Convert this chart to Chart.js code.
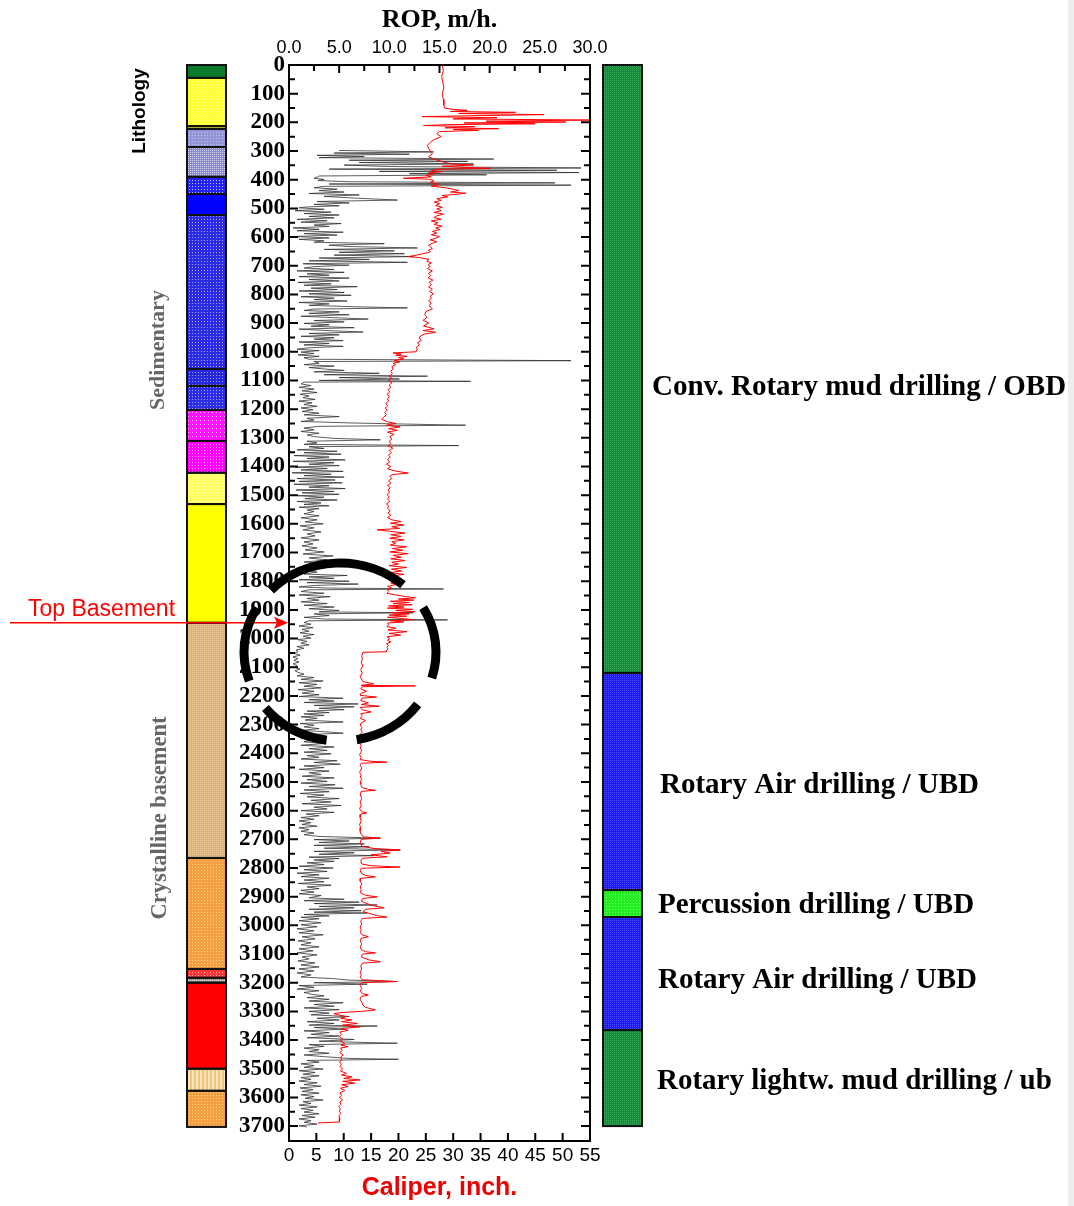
<!DOCTYPE html>
<html>
<head>
<meta charset="utf-8">
<title>ROP and caliper log</title>
<script src="https://cdn.jsdelivr.net/npm/chart.js@4.4.1/dist/chart.umd.min.js"></script>
<style>
  html, body { margin: 0; padding: 0; background: #fff; }
  canvas { display: block; }
</style>
</head>
<body>
<canvas id="logChart" width="1074" height="1206"></canvas>
<script>
// Well log: ROP (top axis) and caliper (bottom axis) vs depth, with lithology and drilling method columns

const SERIF = '"Liberation Serif", "Times New Roman", serif';
const SANS = '"Liberation Sans", Arial, sans-serif';

// depth tick labels (m)
const depthTicks = [0, 100, 200, 300, 400, 500, 600, 700, 800, 900, 1000, 1100, 1200, 1300, 1400, 1500, 1600, 1700, 1800,
  1900, 2000, 2100, 2200, 2300, 2400, 2500, 2600, 2700, 2800, 2900, 3000, 3100, 3200, 3300, 3400, 3500, 3600, 3700];

// --- data: [depth m, ROP m/h]
const ropLog = [
  [298,5.0],[303,14.4],[307,4.5],[311,12.0],[315,2.8],[319,7.5],[323,3.0],[328,20.4],[332,6.0],[336,17.8],
  [340,7.0],[345,18.4],[349,5.5],[354,10.0],[359,29.1],[363,4.0],[367,26.7],[371,9.0],[375,28.9],[379,12.0],
  [383,19.7],[387,3.0],[391,2.8],[395,2.5],[399,3.5],[403,2.9],[407,6.0],[411,26.5],[415,4.0],[419,28.1],
  [423,3.5],[428,2.5],[433,4.8],[438,3.0],[443,5.5],[448,2.0],[453,7.0],[458,3.5],[464,6.5],[471,10.8],
  [476,2.8],[481,6.0],[486,2.5],[491,5.0],[495,1.8],[498,1.0],[503,3.5],[508,0.6],[513,4.2],[518,1.5],
  [523,5.0],[528,2.0],[533,4.5],[538,0.8],[543,3.8],[548,1.2],[553,5.2],[558,2.5],[563,4.0],[568,0.4],
  [573,3.0],[578,0.8],[583,5.4],[588,1.5],[593,4.8],[598,0.5],[603,4.0],[608,1.0],[613,3.5],[618,2.5],
  [623,9.5],[628,4.0],[633,6.0],[638,12.8],[643,3.5],[648,10.5],[653,5.0],[658,11.5],[663,4.5],[668,12.4],
  [673,3.0],[678,8.0],[683,2.0],[688,11.8],[693,1.4],[698,6.0],[703,2.5],[708,1.5],[713,4.5],[718,0.8],
  [723,5.5],[728,1.8],[733,4.0],[738,1.0],[743,6.0],[748,2.0],[753,5.0],[758,0.9],[763,4.2],[768,1.5],
  [773,6.8],[778,2.2],[783,4.8],[788,1.0],[793,5.5],[798,2.0],[803,6.2],[808,1.2],[813,4.5],[818,2.5],
  [823,5.8],[828,1.0],[833,4.0],[838,2.0],[843,6.5],[847,11.8],[851,2.5],[856,1.5],[861,5.0],[866,2.0],
  [871,6.0],[876,1.2],[881,4.5],[886,7.9],[891,2.5],[896,5.5],[901,1.5],[906,4.0],[911,2.2],[916,6.5],
  [921,1.0],[926,3.8],[931,7.4],[936,2.0],[941,5.0],[946,1.2],[951,4.5],[956,2.5],[961,5.4],[966,1.0],
  [971,4.0],[976,1.5],[981,5.4],[986,2.0],[991,0.8],[996,3.0],[1001,1.2],[1006,2.5],[1011,0.9],[1016,3.0],
  [1021,1.5],[1026,2.0],[1031,28.1],[1034,2.5],[1040,3.0],[1045,1.5],[1050,4.5],[1055,2.0],[1060,3.5],[1065,5.5],
  [1070,2.5],[1075,9.0],[1080,3.5],[1085,13.8],[1090,5.0],[1095,11.0],[1100,3.0],[1103,18.1],[1106,1.5],[1112,1.2],
  [1118,2.2],[1124,1.0],[1130,2.5],[1136,1.3],[1142,2.8],[1148,1.1],[1154,2.0],[1160,1.4],[1166,2.6],[1172,1.0],
  [1178,2.3],[1184,1.5],[1190,2.8],[1196,1.2],[1202,2.4],[1208,1.3],[1214,3.0],[1220,1.5],[1226,5.0],[1232,1.8],
  [1238,2.5],[1243,1.2],[1248,6.0],[1252,11.5],[1256,17.6],[1260,3.0],[1266,1.5],[1272,2.5],[1278,1.2],[1284,3.0],
  [1290,1.8],[1296,2.5],[1302,4.5],[1307,9.1],[1312,1.8],[1318,2.8],[1323,1.5],[1327,16.9],[1331,2.0],[1337,3.5],
  [1342,0.8],[1347,4.8],[1352,1.5],[1357,5.2],[1362,0.5],[1367,4.0],[1372,1.8],[1377,5.6],[1382,0.4],[1387,4.5],
  [1392,2.0],[1397,5.0],[1402,0.6],[1407,3.8],[1412,1.2],[1417,5.4],[1422,0.3],[1427,4.2],[1432,1.5],[1437,5.5],
  [1442,0.8],[1447,4.6],[1452,1.0],[1457,5.3],[1462,0.5],[1467,4.0],[1472,2.0],[1477,5.6],[1482,0.7],[1487,4.5],
  [1492,1.3],[1497,5.0],[1502,0.9],[1507,3.5],[1512,1.6],[1517,4.8],[1522,0.8],[1527,3.2],[1532,1.5],[1537,4.0],
  [1542,1.0],[1547,3.0],[1552,1.8],[1557,2.5],[1565,1.5],[1572,3.0],[1579,1.2],[1586,2.8],[1593,1.6],[1600,3.4],
  [1607,1.1],[1614,2.5],[1621,1.4],[1628,3.2],[1635,1.8],[1642,2.6],[1649,1.2],[1656,3.0],[1663,1.5],[1670,2.4],
  [1677,1.3],[1684,2.8],[1691,1.6],[1698,3.5],[1705,1.4],[1712,4.4],[1719,2.0],[1726,3.8],[1733,1.5],[1740,4.0],
  [1747,1.8],[1754,3.2],[1761,1.2],[1768,2.8],[1775,1.5],[1780,5.8],[1785,2.0],[1790,4.5],[1795,1.0],[1800,6.0],
  [1805,1.8],[1810,6.9],[1815,2.5],[1820,1.0],[1824,4.0],[1827,15.4],[1830,2.0],[1836,1.2],[1842,3.5],[1848,1.0],
  [1854,4.1],[1860,1.8],[1866,3.0],[1872,1.2],[1878,3.8],[1884,1.5],[1890,4.5],[1896,2.0],[1902,5.0],[1907,3.0],
  [1910,12.4],[1914,2.5],[1920,4.0],[1926,1.5],[1932,3.5],[1935,15.8],[1938,2.0],[1944,1.5],[1950,2.2],[1956,1.0],
  [1962,2.4],[1968,1.3],[1974,2.0],[1980,1.1],[1986,2.5],[1992,1.4],[1998,2.2],[2004,0.9],[2010,1.8],[2016,1.2],
  [2022,2.0],[2028,0.8],[2034,1.5],[2040,0.7],[2046,0.9],[2052,0.5],[2058,1.1],[2064,0.4],[2070,0.9],[2076,0.5],
  [2082,1.0],[2088,0.4],[2094,0.8],[2100,0.5],[2106,1.1],[2112,0.6],[2118,0.9],[2124,1.5],[2130,0.8],[2136,2.5],
  [2142,1.2],[2148,3.4],[2154,1.0],[2160,2.8],[2166,1.5],[2172,3.2],[2178,0.9],[2184,2.5],[2190,1.3],[2196,3.0],
  [2202,1.0],[2208,5.4],[2213,2.0],[2218,4.5],[2223,1.5],[2228,6.9],[2233,2.5],[2238,6.5],[2243,3.0],[2248,5.5],
  [2253,1.8],[2258,4.0],[2263,1.5],[2268,3.5],[2273,1.2],[2278,2.8],[2284,1.6],[2291,5.4],[2296,1.1],[2302,2.5],
  [2308,1.5],[2314,3.0],[2320,1.3],[2326,4.0],[2330,5.4],[2335,1.5],[2341,2.8],[2347,1.2],[2353,2.5],[2360,1.5],
  [2366,3.5],[2372,1.2],[2378,4.5],[2384,2.0],[2390,3.8],[2396,1.5],[2402,4.2],[2408,1.8],[2414,3.0],[2420,1.2],
  [2426,4.8],[2432,2.5],[2438,5.1],[2444,1.5],[2450,3.5],[2456,1.0],[2462,4.0],[2468,2.0],[2474,3.2],[2480,1.3],
  [2486,4.5],[2492,1.8],[2498,3.8],[2504,1.2],[2510,4.6],[2516,2.0],[2522,5.4],[2528,1.5],[2534,4.0],[2540,1.1],
  [2546,3.5],[2552,1.8],[2558,5.0],[2564,2.2],[2570,4.2],[2576,1.3],[2582,5.2],[2588,2.5],[2594,3.8],[2600,1.2],
  [2606,4.5],[2612,1.7],[2618,3.0],[2624,1.2],[2630,2.5],[2636,1.0],[2642,2.2],[2648,1.3],[2654,2.8],[2660,1.0],
  [2666,2.0],[2672,1.2],[2678,2.5],[2684,1.5],[2690,3.0],[2696,9.1],[2701,2.5],[2706,6.0],[2711,3.0],[2716,7.5],
  [2721,2.5],[2726,8.0],[2731,3.5],[2737,11.1],[2742,2.5],[2747,6.5],[2752,3.0],[2757,8.5],[2762,2.0],[2767,5.0],
  [2772,2.5],[2777,4.5],[2782,1.8],[2788,3.5],[2794,1.0],[2800,4.4],[2806,1.5],[2812,3.8],[2818,0.8],[2824,3.0],
  [2830,1.2],[2836,4.0],[2842,1.5],[2848,3.5],[2854,0.9],[2860,4.2],[2866,1.8],[2872,3.0],[2878,1.2],[2884,2.5],
  [2890,1.0],[2896,3.2],[2904,2.0],[2909,5.5],[2914,1.5],[2919,7.0],[2924,2.5],[2929,8.8],[2934,3.0],[2939,6.5],
  [2944,2.0],[2949,7.2],[2954,2.5],[2957,7.8],[2962,1.5],[2967,4.0],[2972,1.2],[2977,3.0],[2984,1.0],[2991,3.2],
  [2998,1.2],[3005,2.8],[3012,0.8],[3019,2.5],[3026,1.0],[3033,3.4],[3040,1.3],[3047,2.6],[3054,0.9],[3061,2.2],
  [3068,1.2],[3075,3.0],[3082,1.0],[3089,2.4],[3096,0.8],[3103,2.8],[3110,1.3],[3117,2.0],[3124,0.9],[3131,2.6],
  [3138,1.2],[3145,3.0],[3152,1.0],[3159,2.5],[3166,0.8],[3173,2.2],[3180,1.2],[3186,4.5],[3191,6.0],[3196,10.8],
  [3200,2.5],[3205,7.8],[3210,1.0],[3216,2.5],[3222,0.8],[3228,3.0],[3234,1.5],[3240,2.2],[3246,3.5],[3252,1.8],
  [3258,4.0],[3264,2.0],[3270,5.4],[3276,2.5],[3282,4.5],[3288,1.5],[3294,5.0],[3300,2.0],[3306,4.0],[3312,2.2],
  [3318,6.0],[3324,2.8],[3330,5.0],[3336,1.8],[3342,4.5],[3348,2.0],[3351,8.8],[3356,2.5],[3362,5.5],[3368,1.5],
  [3374,4.0],[3380,2.2],[3386,5.0],[3392,1.8],[3398,6.5],[3404,3.0],[3408,7.0],[3411,10.8],[3416,2.0],[3422,3.5],
  [3428,1.5],[3434,3.0],[3440,2.0],[3446,4.0],[3452,1.5],[3458,3.5],[3464,6.0],[3467,10.9],[3471,1.8],[3477,3.0],
  [3483,1.2],[3489,2.5],[3495,1.5],[3501,3.4],[3507,1.0],[3513,2.6],[3519,1.4],[3525,3.0],[3531,1.2],[3537,2.2],
  [3543,1.0],[3549,2.8],[3555,1.5],[3561,3.2],[3567,1.1],[3573,2.4],[3579,1.3],[3585,3.0],[3591,1.2],[3597,2.5],
  [3603,1.6],[3609,3.4],[3615,1.4],[3621,2.2],[3627,1.0],[3633,2.8],[3639,1.2],[3645,2.4],[3651,1.5],[3657,3.0],
  [3663,1.3],[3669,2.6],[3675,1.0],[3681,2.2],[3687,1.5],[3693,2.8],[3699,1.0],[3703,1.8]
];

// --- data: [depth m, caliper inch]
const caliperLog = [
  [0,28.0],[20,28.2],[40,27.9],[60,28.1],[80,28.3],[100,28.0],[120,28.2],[140,28.3],[150,28.4],[155,30.0],
  [158,32.6],[162,29.5],[165,41.4],[169,31.0],[173,46.6],[177,33.0],[180,24.3],[184,38.0],[188,30.0],[192,55.0],
  [196,36.0],[199,50.6],[202,32.0],[205,45.0],[208,29.0],[211,24.6],[215,34.0],[219,28.5],[222,38.3],[225,30.0],
  [228,34.6],[232,27.5],[240,27.0],[250,27.8],[260,26.5],[270,25.8],[280,25.3],[290,25.5],[300,25.8],[310,26.2],
  [320,25.5],[330,26.8],[340,28.5],[345,30.0],[349,33.7],[353,28.0],[357,32.0],[360,36.8],[364,27.0],[368,26.0],
  [372,28.0],[376,25.5],[380,26.5],[385,25.0],[390,26.0],[395,20.9],[398,25.5],[403,26.5],[410,25.8],[416,27.5],
  [422,26.0],[428,28.5],[433,30.0],[438,31.0],[443,29.5],[447,32.3],[451,30.5],[455,28.0],[460,29.0],[466,27.0],
  [472,27.8],[478,26.5],[484,27.5],[490,26.8],[496,28.0],[502,27.0],[508,27.8],[514,26.5],[520,28.2],[526,27.0],
  [532,26.5],[538,27.8],[544,26.0],[550,27.2],[556,26.5],[562,28.0],[568,26.8],[574,27.5],[580,26.2],[586,27.0],
  [592,26.0],[598,27.5],[604,26.8],[610,25.8],[616,27.0],[622,26.2],[628,25.5],[634,25.8],[640,26.2],[646,25.5],
  [652,25.8],[658,24.5],[664,23.0],[668,21.8],[672,24.0],[678,25.6],[684,25.2],[690,26.0],[696,25.4],[702,25.8],
  [710,25.3],[718,26.2],[726,25.5],[734,25.9],[742,25.4],[750,26.3],[758,25.6],[766,26.0],[774,25.5],[782,26.2],
  [790,25.7],[798,26.4],[806,25.8],[814,26.0],[822,25.5],[830,26.0],[840,25.6],[850,26.2],[860,25.0],[870,24.8],
  [880,25.2],[890,24.5],[900,25.5],[910,24.6],[920,26.5],[926,24.5],[932,26.8],[938,24.8],[945,24.0],[952,23.8],
  [960,24.2],[968,23.5],[976,23.8],[984,23.3],[992,23.4],[1000,23.2],[1004,19.0],[1008,20.5],[1012,19.5],[1016,21.6],
  [1020,20.0],[1025,21.0],[1030,19.2],[1035,20.3],[1040,19.0],[1045,19.5],[1052,18.8],[1060,19.0],[1068,18.6],[1076,18.9],
  [1084,18.4],[1092,18.7],[1100,18.2],[1108,18.8],[1116,18.3],[1124,18.6],[1132,18.1],[1140,18.4],[1148,17.9],[1156,18.3],
  [1164,18.0],[1172,18.2],[1180,17.7],[1188,18.0],[1196,17.6],[1204,17.9],[1212,17.5],[1220,17.8],[1228,17.3],[1236,17.0],
  [1244,18.0],[1250,19.5],[1256,17.8],[1262,20.3],[1268,18.2],[1274,19.8],[1280,18.0],[1288,19.2],[1296,18.4],[1304,18.8],
  [1312,18.3],[1320,18.6],[1328,18.1],[1336,19.0],[1344,18.3],[1352,18.7],[1360,18.2],[1368,18.5],[1376,18.0],[1384,18.4],
  [1392,17.8],[1400,18.6],[1408,18.0],[1416,19.5],[1423,21.8],[1428,19.0],[1434,18.4],[1442,18.8],[1450,18.2],[1458,18.6],
  [1466,18.0],[1474,18.5],[1482,18.1],[1490,18.4],[1498,17.9],[1506,18.3],[1514,18.0],[1522,18.4],[1530,17.8],[1538,18.2],
  [1546,18.0],[1554,18.5],[1562,18.1],[1570,18.6],[1578,18.0],[1586,18.8],[1592,20.5],[1598,18.5],[1604,21.0],[1610,18.8],
  [1616,20.2],[1621,16.1],[1626,18.5],[1632,21.2],[1638,18.6],[1644,20.5],[1650,18.4],[1656,21.0],[1662,18.8],[1668,19.5],
  [1674,18.5],[1680,21.5],[1686,18.9],[1692,20.8],[1698,18.4],[1704,21.8],[1710,19.0],[1716,20.5],[1722,18.6],[1728,21.2],
  [1734,18.8],[1740,20.0],[1746,18.3],[1752,21.5],[1758,18.7],[1764,20.6],[1770,18.5],[1776,21.0],[1782,18.8],[1788,19.8],
  [1794,18.2],[1800,20.5],[1806,18.6],[1812,19.5],[1818,18.0],[1824,18.8],[1830,18.0],[1836,18.2],[1842,17.9],[1848,19.5],
  [1854,21.5],[1858,23.1],[1862,20.0],[1866,22.8],[1870,18.5],[1874,22.0],[1878,19.0],[1882,22.5],[1886,18.2],[1890,21.0],
  [1894,18.0],[1898,22.6],[1902,19.5],[1906,23.0],[1910,18.8],[1914,22.0],[1918,18.3],[1922,21.5],[1926,18.0],[1930,20.5],
  [1934,22.8],[1938,18.5],[1942,21.0],[1946,18.0],[1952,18.2],[1958,17.9],[1964,19.5],[1970,18.1],[1976,21.6],[1982,18.3],
  [1988,20.4],[1994,17.9],[2000,18.4],[2006,18.0],[2012,18.6],[2018,17.8],[2024,18.2],[2030,17.9],[2036,18.1],[2042,17.8],
  [2046,17.8],[2048,13.5],[2060,13.3],[2072,13.4],[2084,13.2],[2096,13.5],[2108,13.1],[2120,13.4],[2132,13.0],[2140,13.2],
  [2150,13.5],[2158,15.5],[2163,13.2],[2165,23.1],[2168,13.4],[2176,13.1],[2184,14.2],[2190,13.2],[2198,13.0],[2204,16.0],
  [2208,13.3],[2216,13.1],[2224,14.5],[2230,13.2],[2236,16.5],[2240,13.0],[2248,13.4],[2256,15.0],[2262,13.1],[2270,13.4],
  [2278,13.0],[2286,14.0],[2294,13.2],[2302,13.0],[2310,13.3],[2318,13.1],[2326,13.4],[2334,13.0],[2342,13.2],[2350,12.9],
  [2358,13.3],[2366,13.0],[2374,13.2],[2382,13.0],[2390,13.3],[2398,13.1],[2406,12.9],[2414,13.2],[2422,13.0],[2428,15.0],
  [2431,17.9],[2435,13.2],[2443,13.0],[2451,13.3],[2459,13.1],[2467,12.9],[2475,13.2],[2483,13.0],[2491,13.3],[2499,13.0],
  [2508,13.1],[2520,13.4],[2526,14.5],[2529,15.8],[2533,13.2],[2545,13.0],[2557,13.3],[2569,13.0],[2581,13.2],[2593,12.9],
  [2604,13.3],[2608,14.2],[2612,13.1],[2624,13.0],[2636,13.2],[2648,12.9],[2660,13.1],[2672,13.0],[2684,13.2],[2692,13.8],
  [2696,16.7],[2700,13.2],[2712,13.0],[2724,13.3],[2732,15.5],[2737,20.3],[2742,16.8],[2748,18.5],[2754,15.0],[2761,17.9],
  [2766,13.4],[2776,13.1],[2786,13.3],[2792,15.0],[2797,20.3],[2801,13.2],[2810,13.0],[2820,13.3],[2826,14.0],[2831,15.8],
  [2836,13.1],[2846,13.0],[2856,13.3],[2866,13.0],[2876,13.2],[2886,13.0],[2895,14.0],[2901,16.1],[2906,13.5],[2916,13.2],
  [2926,14.5],[2932,15.5],[2939,17.4],[2944,14.0],[2952,13.5],[2960,15.0],[2966,16.0],[2971,17.9],[2976,13.4],[2986,13.1],
  [2996,13.3],[3006,13.0],[3016,13.2],[3026,13.0],[3034,13.5],[3040,14.5],[3045,13.2],[3055,13.0],[3065,13.3],[3075,13.0],
  [3085,13.2],[3092,14.0],[3096,15.8],[3100,13.5],[3110,13.2],[3120,14.5],[3127,16.7],[3132,13.4],[3142,13.1],[3152,13.3],
  [3162,13.0],[3172,13.2],[3182,13.0],[3190,13.5],[3196,19.7],[3200,13.2],[3210,13.0],[3220,13.3],[3230,13.0],[3238,13.4],
  [3243,14.5],[3248,13.2],[3258,13.0],[3268,13.3],[3278,13.5],[3286,14.0],[3295,15.8],[3300,13.2],[3304,9.5],[3308,8.2],
  [3312,9.0],[3318,10.5],[3324,9.4],[3330,11.5],[3336,9.6],[3342,12.5],[3348,9.8],[3354,13.0],[3360,9.5],[3366,10.8],
  [3372,9.3],[3380,9.6],[3388,9.2],[3396,9.8],[3404,9.4],[3412,10.2],[3418,9.5],[3423,10.8],[3428,9.4],[3436,9.7],
  [3444,9.3],[3452,9.9],[3460,9.4],[3468,9.7],[3476,9.2],[3484,9.6],[3492,9.3],[3500,9.8],[3508,9.4],[3516,10.5],
  [3522,9.6],[3528,11.5],[3534,10.0],[3539,13.0],[3544,9.8],[3550,12.0],[3556,9.6],[3562,10.8],[3568,9.4],[3576,10.2],
  [3584,9.3],[3592,9.6],[3600,9.2],[3608,9.8],[3616,9.3],[3624,9.5],[3632,9.1],[3640,9.4],[3648,9.2],[3656,9.5],
  [3664,9.1],[3672,9.3],[3680,9.2],[3686,9.2],[3689,5.3]
];

// --- lithology column (depth intervals, m)
const lithoTop  = [0, 45, 213, 223, 286, 390, 450, 523, 1060, 1119, 1203, 1311, 1422, 1531, 1945, 2765, 3152, 3183, 3200, 3500, 3577];
const lithoBase = [45, 213, 223, 286, 390, 450, 523, 1060, 1119, 1203, 1311, 1422, 1531, 1945, 2765, 3152, 3183, 3200, 3500, 3577, 3703];
const lithoStyle = [
  { base: '#0a7a2a' },
  { base: '#ffff38', dot: '#ffff9a', cell: 3 },
  { base: '#e4e440' },
  { base: '#9494d8', dot: '#c4c4f0', cell: 3 },
  { base: '#8888cc', dot: '#d8d8f4', cell: 2 },
  { base: '#2424f0', dot: '#c8c8ff', cell: 3 },
  { base: '#0000ff' },
  { base: '#2a2ae4', dot: '#aeaef8', cell: 3 },
  { base: '#2626e0', dot: '#a8a8f4', cell: 3 },
  { base: '#2c2ce6', dot: '#a8a8f4', cell: 3 },
  { base: '#ff14ff', dot: '#ffc0ff', cell: 4 },
  { base: '#ff00ff', dot: '#ffb0ff', cell: 3 },
  { base: '#ffff60', dot: '#ffffc0', cell: 3 },
  { base: '#ffff00' },
  { base: '#dcb27a', dot: '#ecce9c', cell: 2 },
  { base: '#f4a040', dot: '#ffd28c', cell: 3 },
  { base: '#ff3434', dot: '#ffb0b0', cell: 3 },
  { base: '#9c9c9c', dot: '#e4e4e4', cell: 2 },
  { base: '#ff0000' },
  { base: '#f0c47c', stripe: '#fbe4b8', cell: 4 },
  { base: '#f5a040', dot: '#ffd08a', cell: 3 }
];

// --- drilling method column
const drillTop  = [0, 2120, 2877, 2971, 3365];
const drillBase = [2120, 2877, 2971, 3365, 3700];
const drillStyle = [
  { base: '#17893a', dot: '#3cac5c', cell: 2 },
  { base: '#1a1af0', dot: '#5050ff', cell: 2 },
  { base: '#22ee22', dot: '#70ff70', cell: 3 },
  { base: '#1a1af0', dot: '#5050ff', cell: 2 },
  { base: '#17893a', dot: '#3cac5c', cell: 2 }
];
const drillLabels = [
  'Conv. Rotary mud drilling / OBD',
  'Rotary Air drilling / UBD',
  'Percussion drilling / UBD',
  'Rotary Air drilling / UBD',
  'Rotary lightw. mud drilling / ub'
];
const drillLabelDepth = [1123, 2514, 2932, 3194, 3543];
const drillLabelX = [652, 660, 658, 658, 657];

const topBasementDepth = 1945;

function makeFill(ctx, s) {
  if (!s.dot && !s.stripe) return s.base;
  const c = document.createElement('canvas');
  c.width = c.height = s.cell;
  const g = c.getContext('2d');
  g.fillStyle = s.base;
  g.fillRect(0, 0, s.cell, s.cell);
  if (s.stripe) {
    g.fillStyle = s.stripe;
    g.fillRect(0, 0, Math.ceil(s.cell / 2), s.cell);
  } else {
    g.fillStyle = s.dot;
    g.fillRect(0, 0, 1, 1);
  }
  return ctx.createPattern(c, 'repeat');
}

function drawColumn(ctx, y, left, width, tops, bases, styles) {
  tops.forEach((top, i) => {
    const y0 = y.getPixelForValue(top);
    const y1 = y.getPixelForValue(bases[i]);
    ctx.fillStyle = makeFill(ctx, styles[i]);
    ctx.fillRect(left, y0, width, y1 - y0);
  });
  ctx.strokeStyle = '#111';
  ctx.lineWidth = 2;
  tops.forEach((top, i) => {
    const y0 = y.getPixelForValue(top);
    const y1 = y.getPixelForValue(bases[i]);
    ctx.strokeRect(left, y0, width, y1 - y0);
  });
}

function rotatedText(ctx, text, x, y, font, color) {
  ctx.save();
  ctx.translate(x, y);
  ctx.rotate(-Math.PI / 2);
  ctx.font = font;
  ctx.fillStyle = color;
  ctx.textAlign = 'center';
  ctx.textBaseline = 'middle';
  ctx.fillText(text, 0, 0);
  ctx.restore();
}

// inward tick marks + frame
const frameTicks = {
  id: 'frameTicks',
  afterDatasetsDraw(chart) {
    const { ctx, chartArea: a, scales } = chart;
    ctx.save();
    ctx.strokeStyle = '#000';
    ctx.lineWidth = 2;
    for (let d = 0; d <= 3700; d += 50) {
      const py = scales.y.getPixelForValue(d);
      const len = d % 100 === 0 ? 9 : 6;
      ctx.beginPath();
      ctx.moveTo(a.left, py); ctx.lineTo(a.left + len, py);
      ctx.moveTo(a.right, py); ctx.lineTo(a.right - len, py);
      ctx.stroke();
    }
    for (let v = 0; v <= 30; v += 2.5) {
      const px = scales.x2.getPixelForValue(v);
      const len = v % 5 === 0 ? 8 : 6;
      ctx.beginPath();
      ctx.moveTo(px, a.top); ctx.lineTo(px, a.top + len);
      ctx.stroke();
    }
    for (let v = 0; v <= 55; v += 5) {
      const px = scales.x.getPixelForValue(v);
      ctx.beginPath();
      ctx.moveTo(px, a.bottom); ctx.lineTo(px, a.bottom - 8);
      ctx.stroke();
    }
    ctx.strokeRect(a.left, a.top, a.right - a.left, a.bottom - a.top);
    ctx.restore();
  }
};

// side columns, labels, annotations
const sideColumns = {
  id: 'sideColumns',
  afterDraw(chart) {
    const { ctx, scales } = chart;
    const y = scales.y;
    ctx.save();
    drawColumn(ctx, y, 187, 39, lithoTop, lithoBase, lithoStyle);
    drawColumn(ctx, y, 603, 39, drillTop, drillBase, drillStyle);

    ctx.font = 'bold 29px ' + SERIF;
    ctx.fillStyle = '#000';
    ctx.textAlign = 'left';
    ctx.textBaseline = 'middle';
    drillLabels.forEach((t, i) => ctx.fillText(t, drillLabelX[i], y.getPixelForValue(drillLabelDepth[i])));

    rotatedText(ctx, 'Lithology', 140, 111, 'bold 19px ' + SANS, '#000');
    rotatedText(ctx, 'Sedimentary', 158, 350, 'bold 22px ' + SERIF, '#666');
    rotatedText(ctx, 'Crystalline basement', 160, 818, 'bold 22.5px ' + SERIF, '#666');

    // Top Basement arrow
    const by = y.getPixelForValue(topBasementDepth);
    ctx.strokeStyle = '#ff0000';
    ctx.fillStyle = '#ff0000';
    ctx.lineWidth = 1.5;
    ctx.beginPath();
    ctx.moveTo(10, by); ctx.lineTo(278, by);
    ctx.stroke();
    ctx.beginPath();
    ctx.moveTo(288, by); ctx.lineTo(274, by - 6); ctx.lineTo(277, by); ctx.lineTo(274, by + 6);
    ctx.closePath();
    ctx.fill();
    ctx.font = '23px ' + SANS;
    ctx.textAlign = 'left';
    ctx.textBaseline = 'middle';
    ctx.fillText('Top Basement', 28, by - 13);

    // dashed circle around the basement transition
    ctx.strokeStyle = '#000';
    ctx.lineWidth = 9;
    const cx = 340, cy = y.getPixelForValue(2047), rx = 96, ry = 89;
    const arcs = [[-136, -49], [-30, 17], [36, 80], [98, 141], [161, 210]];
    arcs.forEach(([s, e]) => {
      ctx.beginPath();
      ctx.ellipse(cx, cy, rx, ry, 0, s * Math.PI / 180, e * Math.PI / 180);
      ctx.stroke();
    });

    // faint page edge on the right
    ctx.fillStyle = '#eeeeee';
    ctx.fillRect(1068, 0, 6, 1206);
    ctx.restore();
  }
};

new Chart(document.getElementById('logChart'), {
  type: 'scatter',
  data: {
    datasets: [
      {
        label: 'Caliper',
        data: caliperLog.map(([d, v]) => ({ x: v, y: d })),
        xAxisID: 'x',
        yAxisID: 'y',
        showLine: true,
        borderColor: '#ff0000',
        borderWidth: 1,
        pointRadius: 0,
        order: 0
      },
      {
        label: 'ROP',
        data: ropLog.map(([d, v]) => ({ x: v, y: d })),
        xAxisID: 'x2',
        yAxisID: 'y',
        showLine: true,
        borderColor: 'rgba(40, 40, 40, 0.75)',
        borderWidth: 1,
        pointRadius: 0,
        order: 1
      }
    ]
  },
  options: {
    responsive: false,
    animation: false,
    devicePixelRatio: 1,
    layout: { padding: { left: 0, right: 484, top: 0, bottom: 0 } },
    plugins: { legend: { display: false }, tooltip: { enabled: false } },
    scales: {
      x: {
        type: 'linear',
        position: 'bottom',
        min: 0,
        max: 55,
        afterFit: s => { s.height = 65; },
        grid: { display: false, drawTicks: false },
        border: { display: false },
        ticks: { stepSize: 5, padding: 3, color: '#000', autoSkip: false, font: { family: SANS, size: 19 } },
        title: { display: true, text: 'Caliper, inch.', color: '#ee0000', padding: { bottom: 3 }, font: { family: SANS, size: 25, weight: 'bold' } }
      },
      x2: {
        type: 'linear',
        position: 'top',
        min: 0,
        max: 30,
        afterFit: s => { s.height = 65; },
        grid: { display: false, drawTicks: false },
        border: { display: false },
        ticks: { stepSize: 5, padding: 6, color: '#000', autoSkip: false, font: { family: SANS, size: 18 }, callback: v => v.toFixed(1) },
        title: { display: true, text: 'ROP, m/h.', color: '#000', padding: { top: 5 }, font: { family: SERIF, size: 26, weight: 'bold' } }
      },
      y: {
        type: 'linear',
        reverse: true,
        min: 0,
        max: 3752,
        afterFit: s => { s.width = 289; },
        afterBuildTicks: s => { s.ticks = depthTicks.map(v => ({ value: v })); },
        grid: { display: false, drawTicks: false },
        border: { display: false },
        ticks: { padding: 4, color: '#000', autoSkip: false, font: { family: SERIF, size: 23, weight: 'bold' }, callback: v => String(v) }
      }
    }
  },
  plugins: [frameTicks, sideColumns]
});
</script>
</body>
</html>
